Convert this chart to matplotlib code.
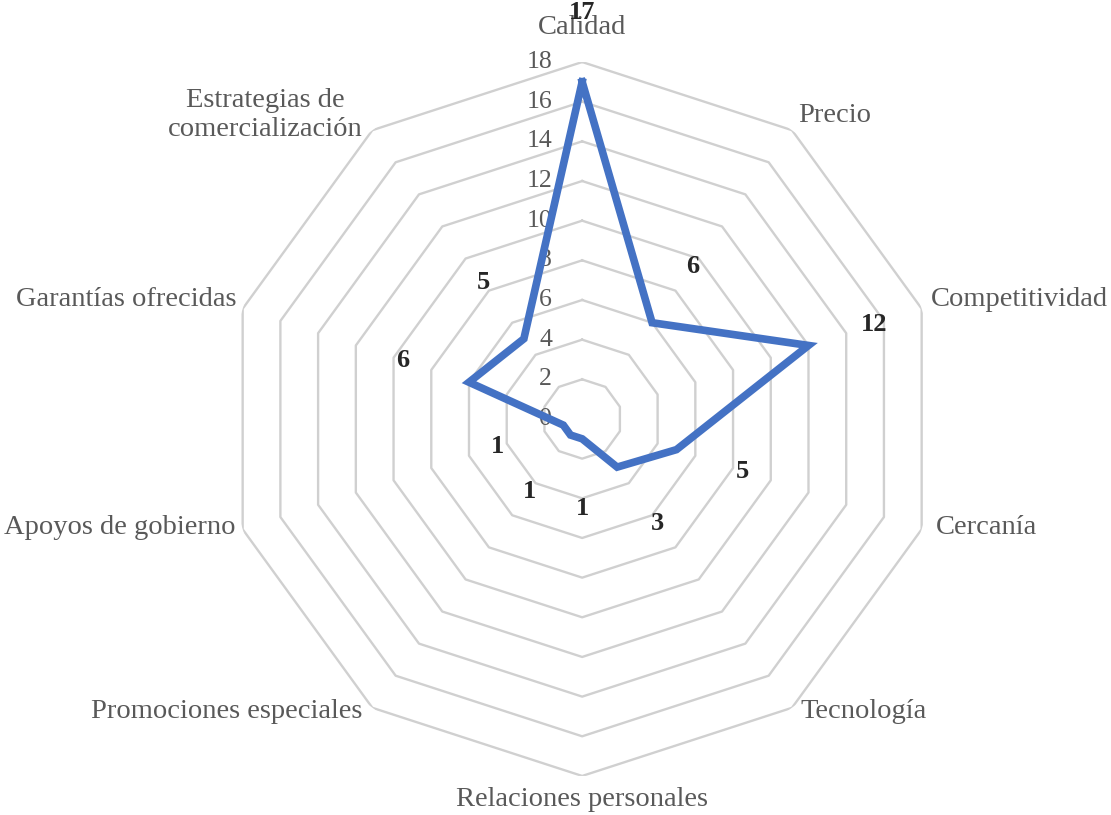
import numpy as np
import matplotlib
matplotlib.use("Agg")
import matplotlib.pyplot as plt

categorias = ["Calidad", "Precio", "Competitividad", "Cercanía", "Tecnología",
              "Relaciones personales", "Promociones especiales", "Apoyos de gobierno",
              "Garantías ofrecidas", "Estrategias de\ncomercialización"]
valores = [17, 6, 12, 5, 3, 1, 1, 1, 6, 5]
anillos = [2, 4, 6, 8, 10, 12, 14, 16, 18]
marcas = [0, 2, 4, 6, 8, 10, 12, 14, 16, 18]

plt.rcParams["font.family"] = ["Liberation Serif", "DejaVu Serif"]

n = len(categorias)
angulos = np.linspace(0, 2 * np.pi, n, endpoint=False)
cerrado = np.append(angulos, angulos[0])

fig = plt.figure(figsize=(11.11, 8.15), dpi=100)
ax = fig.add_axes([0.2025, 0.0479, 0.643, 0.876], projection="polar")
ax.set_theta_offset(np.pi / 2)
ax.set_theta_direction(-1)
ax.set_ylim(0, 18)
ax.grid(False)
ax.set_xticks([])
ax.set_yticks([])
ax.spines["polar"].set_visible(False)
ax.patch.set_alpha(0)

# anillos poligonales
for r in anillos:
    ax.plot(cerrado, [r] * (n + 1), color="#d0d0d0", lw=1.7, zorder=1)

# serie
ax.plot(cerrado, valores + [valores[0]], color="#4472c4", lw=5.5,
        solid_joinstyle="miter", zorder=3)

# etiquetas del eje radial
for m in marcas:
    ax.annotate(str(m), (0, m), xytext=(-30, 0), textcoords="offset pixels",
                ha="right", va="center", fontsize=18.5, color="#595959", zorder=2)

# etiquetas de datos
for a, v in zip(angulos, valores):
    ax.text(a, v + 3.5, str(v), ha="center", va="center", fontsize=19,
            fontweight="bold", color="#262626", zorder=4)

# etiquetas de categorias
desplaz = [(0, 35, "center"), (6, 15, "left"), (9, 9, "left"), (14, 2, "left"),
           (8, -4, "left"), (0, -24, "center"), (-10, -4, "right"),
           (-7, 2, "right"), (-6, 9, "right"), (-10, 15, "right")]
for a, cat, (dx, dy, ha) in zip(angulos, categorias, desplaz):
    ax.annotate(cat, (a, 18), xytext=(dx, dy), textcoords="offset pixels",
                ha=ha, va="center", fontsize=20.5, color="#595959",
                linespacing=1.2, multialignment="center")

fig.savefig("out.png", dpi=100)
